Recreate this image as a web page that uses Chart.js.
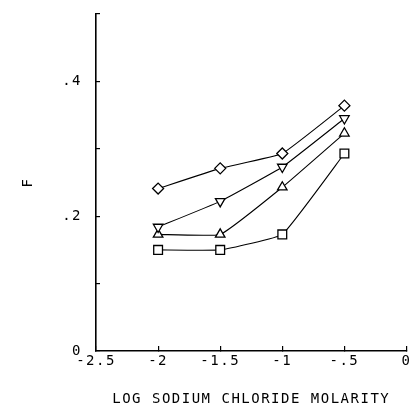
<!DOCTYPE html>
<html><head><meta charset="utf-8">
<script src="https://cdn.jsdelivr.net/npm/chart.js@4/dist/chart.umd.min.js"></script>
<style>html,body{margin:0;padding:0;background:#fff}#wrap{width:414px;height:411px}</style>
</head><body><div id="wrap"><canvas id="c" width="414" height="411"></canvas></div>
<script>
const xValues = [-2, -1.5, -1, -0.5];
const diamondSeries = [0.241, 0.271, 0.293, 0.364];
const invTriangleSeries = [0.184, 0.222, 0.273, 0.345];
const triangleSeries = [0.173, 0.173, 0.243, 0.323];
const squareSeries = [0.150, 0.150, 0.173, 0.293];
const xTickLabels = {"-2.5":"-2.5","-2":"-2","-1.5":"-1.5","-1":"-1","-0.5":"-.5","0":"0"};
const yTickLabels = {"0":"0","0.2":".2","0.4":".4"};
const xTitle = "LOG SODIUM CHLORIDE MOLARITY";
const yTitle = "F";

const FONT = "'DejaVu Sans Mono', monospace";
function pts(arr){ return xValues.map((x,i)=>({x:x,y:arr[i]})); }
function ds(arr, style, r, rot){
  return {data: pts(arr), borderColor:'#000', borderWidth:1.1, backgroundColor:'#fff',
    pointStyle: style, pointRadius: r, pointRotation: rot||0, pointBorderColor:'#000',
    pointBackgroundColor:'#fff', pointBorderWidth:1.3, tension:0.1, fill:false};
}
const spacing = {
  id:'spacing',
  beforeLayout(c){ c.ctx.letterSpacing='1.5px'; },
  beforeDraw(c){ c.ctx.letterSpacing='1.5px'; }
};
new Chart(document.getElementById('c'), {
  type:'line',
  data:{datasets:[
    ds(diamondSeries,'rectRot',5.5),
    ds(invTriangleSeries,'triangle',5.5,180),
    ds(triangleSeries,'triangle',5.5),
    ds(squareSeries,'rect',6.2)
  ]},
  options:{
    responsive:false, animation:false, devicePixelRatio:1,
    layout:{padding:{top:14,right:3,left:0,bottom:0}},
    plugins:{legend:{display:false}, tooltip:{enabled:false}},
    scales:{
      x:{type:'linear', min:-2.5, max:0,
        afterFit(s){ s.height=60; s.paddingLeft=0; s.paddingRight=0; },
        border:{display:true,color:'#000',width:1.6},
        grid:{display:true, drawOnChartArea:false, drawTicks:true, tickLength:-5, color:'#000', lineWidth:1.2},
        ticks:{stepSize:0.5, padding:7, color:'#000', maxRotation:0, autoSkip:false,
          font:{family:FONT,size:14},
          callback:(v)=>{ const k=String(Math.round(v*10)/10); return xTickLabels[k]!==undefined?xTickLabels[k]:''; }},
        title:{display:true, text:xTitle, color:'#000', font:{family:FONT,size:14}, padding:{top:0,bottom:3}}
      },
      y:{type:'linear', min:0, max:0.5,
        afterFit(s){ s.width=96; s.paddingTop=0; s.paddingBottom=0; },
        border:{display:true,color:'#000',width:1.6},
        grid:{display:true, drawOnChartArea:false, drawTicks:true, tickLength:-4, color:'#000', lineWidth:1.2},
        ticks:{stepSize:0.1, padding:18, color:'#000', autoSkip:false,
          font:{family:FONT,size:14},
          callback:(v)=>{ const k=String(Math.round(v*10)/10); return yTickLabels[k]!==undefined?yTickLabels[k]:''; }},
        title:{display:true, text:yTitle, color:'#000', font:{family:FONT,size:14}, padding:{top:20,bottom:0}}
      }
    }
  },
  plugins:[spacing]
});
</script></body></html>
